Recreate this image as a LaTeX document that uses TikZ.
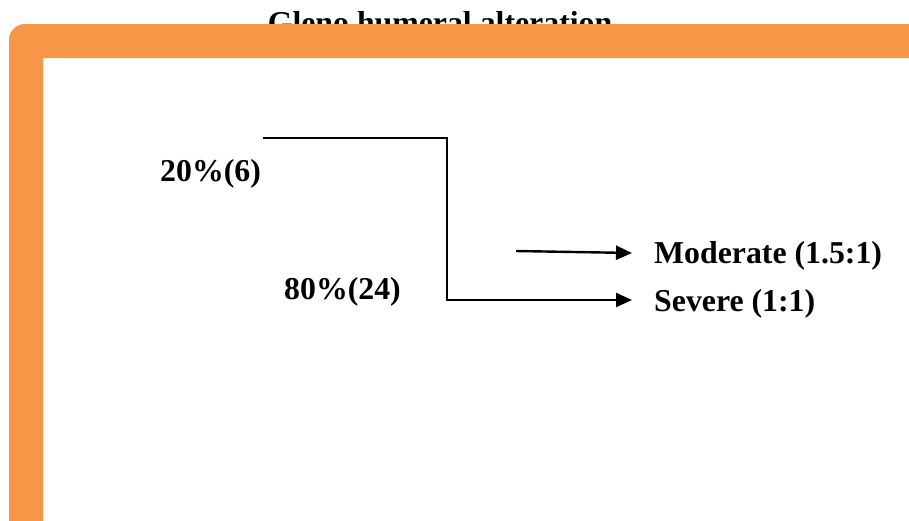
\documentclass[tikz,border=0pt]{standalone}
\usepackage{fontspec}
\setmainfont{Liberation Serif}
\usetikzlibrary{arrows.meta}
\definecolor{bandorange}{HTML}{F79646}
\tikzset{
  lbl/.style={font=\bfseries\fontsize{31.8}{36}\selectfont, inner sep=0pt, anchor=base west},
  outlbl/.style={lbl, inner xsep=22pt},
  conn/.style={line width=2.4pt, line join=miter},
  arr/.style={conn, -{Triangle[length=16pt,width=14pt]}}
}
\begin{document}
\begin{tikzpicture}[x=1pt, y=-1pt]
  \useasboundingbox (0,0) rectangle (909,520);
  % heading, partly covered by the frame band
  \node[lbl, anchor=base] (title) at (440,33) {Gleno humeral alteration};
  % orange frame band along the top and left edges
  \fill[bandorange] (9,530) -- (9,40) arc[start angle=180, end angle=90, radius=16pt]
        -- (920,24) -- (920,58) -- (43,58) -- (43,530) -- cycle;
  % labels
  \node[lbl] (p20) at (160,181) {20\%(6)};
  \node[lbl] (p80) at (284,299) {80\%(24)};
  \node[outlbl] (mod) at (632,263) {Moderate (1.5:1)};
  \node[outlbl] (sev) at (632,311) {Severe (1:1)};
  % connectors
  \coordinate (top) at (263,138);
  \coordinate (mstart) at (516,251);
  \draw[arr] (top) -- (447,138) -- (447,300) -- (sev.west |- 0,300);
  \draw[arr] (mstart) -- (mod.west |- 0,253);
\end{tikzpicture}
\end{document}
